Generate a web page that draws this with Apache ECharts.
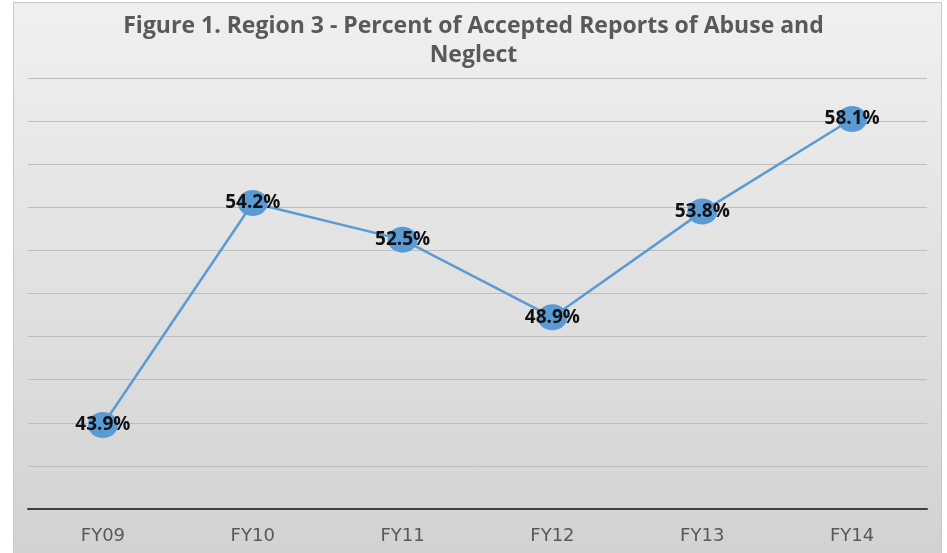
<!DOCTYPE html>
<html>
<head>
<meta charset="utf-8">
<script src="https://cdn.jsdelivr.net/npm/echarts@6/dist/echarts.min.js"></script>
<style>
  html, body { margin: 0; padding: 0; background: #ffffff; }
  #main { width: 947px; height: 553px; }
</style>
</head>
<body>
<div id="main"></div>
<script>
// data
const years = ['FY09', 'FY10', 'FY11', 'FY12', 'FY13', 'FY14'];
const percentAccepted = [43.9, 54.2, 52.5, 48.9, 53.8, 58.1];
const titleText = 'Figure 1. Region 3 - Percent of Accepted Reports of Abuse and\nNeglect';

let chart = echarts.init(document.getElementById('main'));
chart.setOption({
    animation: false,
    graphic: [
        {
            type: 'rect',
            z: -10,
            shape: { x: 13.5, y: 2.5, width: 928, height: 552 },
            style: {
                fill: {
                    type: 'linear', x: 0, y: 0, x2: 0, y2: 1,
                    colorStops: [
                        { offset: 0, color: '#f0f0f0' },
                        { offset: 1, color: '#d2d2d2' }
                    ]
                },
                stroke: '#c8c8c8',
                lineWidth: 1
            }
        }
    ],
    title: {
        text: titleText,
        left: 'center',
        top: 7,
        textStyle: {
            fontFamily: 'Open Sans',
            fontWeight: 'bold',
            fontSize: 23,
            color: '#595959',
            lineHeight: 29
        }
    },
    grid: { left: 28, right: 20, top: 78, bottom: 44 },
    xAxis: {
        type: 'category',
        data: years,
        boundaryGap: true,
        axisLine: { lineStyle: { color: '#404040', width: 2 } },
        axisTick: { show: false },
        axisLabel: {
            color: '#595959',
            fontFamily: 'DejaVu Sans',
            fontSize: 18,
            margin: 18
        }
    },
    yAxis: {
        type: 'value',
        min: 40,
        max: 60,
        interval: 2,
        axisLine: { show: false },
        axisTick: { show: false },
        axisLabel: { show: false },
        splitLine: { lineStyle: { color: '#bdbdbd', width: 1 } }
    },
    series: [
        {
            type: 'line',
            data: percentAccepted,
            symbol: 'circle',
            symbolSize: [30, 26],
            lineStyle: { color: '#5b9bd5', width: 2.5 },
            itemStyle: { color: '#5b9bd5' },
            label: {
                show: true,
                position: 'inside',
                formatter: p => p.value.toFixed(1) + '%',
                color: '#111111',
                fontFamily: 'Open Sans',
                fontWeight: 'bold',
                fontSize: 19
            }
        }
    ]
});
</script>
</body>
</html>
